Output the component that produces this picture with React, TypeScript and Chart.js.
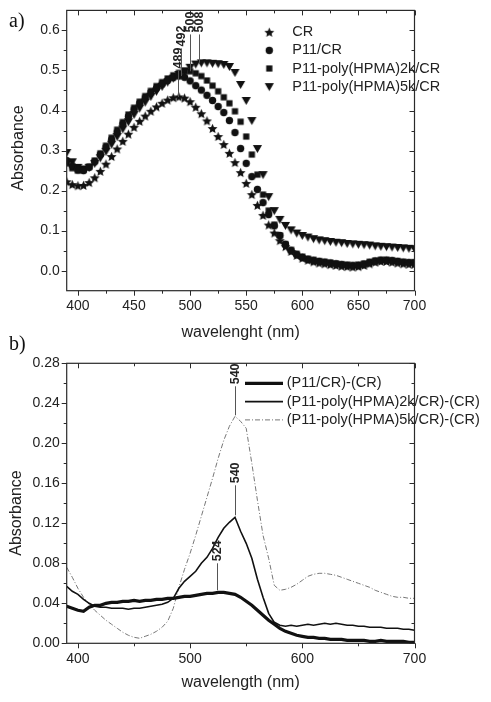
import React, { useEffect, useRef } from 'react';
import { Chart, registerables } from 'chart.js';
Chart.register(...registerables);

const FONT = '"Liberation Sans", Arial, sans-serif';
const INK = '#222';

// ---------- shared wavelength grid (nm) ----------
const wavelengths = [390, 395, 400, 405, 410, 415, 420, 425, 430, 435, 440, 445, 450, 455, 460, 465, 470, 475, 480,
  485, 490, 495, 500, 505, 510, 515, 520, 525, 530, 535, 540, 545, 550, 555, 560, 565, 570, 575, 580,
  585, 590, 595, 600, 605, 610, 615, 620, 625, 630, 635, 640, 645, 650, 655, 660, 665, 670, 675, 680, 685, 690, 695, 700];

// ---------- panel a) ----------
const absCR = [0.222, 0.215, 0.212, 0.213, 0.220, 0.232, 0.248, 0.266, 0.285, 0.304, 0.323, 0.341, 0.358, 0.373, 0.386, 0.398, 0.409, 0.418, 0.426,
  0.432, 0.434, 0.431, 0.422, 0.408, 0.392, 0.374, 0.355, 0.335, 0.315, 0.293, 0.270, 0.245, 0.218, 0.190, 0.163, 0.138, 0.114, 0.094, 0.075,
  0.060, 0.048, 0.038, 0.031, 0.026, 0.022, 0.019, 0.017, 0.015, 0.013, 0.011, 0.010, 0.009, 0.010, 0.013, 0.017, 0.021, 0.023, 0.023, 0.021, 0.019, 0.017, 0.016, 0.016];
const absP11 = [0.275, 0.262, 0.252, 0.250, 0.258, 0.272, 0.290, 0.308, 0.327, 0.346, 0.366, 0.385, 0.402, 0.418, 0.432, 0.445, 0.456, 0.466, 0.475,
  0.482, 0.486, 0.483, 0.474, 0.462, 0.451, 0.438, 0.425, 0.410, 0.395, 0.375, 0.345, 0.305, 0.268, 0.235, 0.203, 0.170, 0.140, 0.112, 0.088,
  0.066, 0.050, 0.040, 0.033, 0.028, 0.025, 0.023, 0.021, 0.019, 0.017, 0.015, 0.013, 0.012, 0.013, 0.016, 0.020, 0.024, 0.026, 0.026, 0.025, 0.023, 0.021, 0.020, 0.020];
const absP11_2k = [0.268, 0.256, 0.250, 0.252, 0.260, 0.275, 0.293, 0.312, 0.332, 0.352, 0.371, 0.390, 0.407, 0.422, 0.436, 0.449, 0.461, 0.471, 0.480,
  0.488, 0.494, 0.498, 0.498, 0.493, 0.486, 0.475, 0.462, 0.448, 0.433, 0.418, 0.398, 0.372, 0.335, 0.290, 0.240, 0.190, 0.150, 0.115, 0.088,
  0.066, 0.052, 0.042, 0.035, 0.030, 0.027, 0.024, 0.022, 0.020, 0.018, 0.016, 0.015, 0.014, 0.015, 0.018, 0.022, 0.025, 0.027, 0.027, 0.026, 0.024, 0.022, 0.021, 0.021];
const absP11_5k = [0.295, 0.272, 0.258, 0.254, 0.258, 0.268, 0.282, 0.298, 0.316, 0.335, 0.354, 0.372, 0.390, 0.406, 0.421, 0.435, 0.448, 0.460, 0.471,
  0.481, 0.490, 0.499, 0.508, 0.516, 0.519, 0.519, 0.518, 0.517, 0.515, 0.510, 0.495, 0.465, 0.425, 0.375, 0.305, 0.240, 0.185, 0.150, 0.128,
  0.113, 0.102, 0.094, 0.088, 0.084, 0.080, 0.077, 0.075, 0.073, 0.071, 0.070, 0.068, 0.067, 0.066, 0.065, 0.064, 0.062, 0.061, 0.060, 0.059, 0.058, 0.057, 0.056, 0.055];
const labelsA = ['CR', 'P11/CR', 'P11-poly(HPMA)2k/CR', 'P11-poly(HPMA)5k/CR'];
const markerKindsA = ['star', 'circle', 'square', 'tri'];
const xTicksA = [400, 450, 500, 550, 600, 650, 700];
const xMinorA = [425, 475, 525, 575, 625, 675];
const yTicksA = [0, 0.1, 0.2, 0.3, 0.4, 0.5, 0.6];
const yMinorA = [0.05, 0.15, 0.25, 0.35, 0.45, 0.55];
const peakWlA = [489, 492, 500, 508];
const peakBaseA = [0.434, 0.486, 0.498, 0.519];
const peakTopA = [0.50, 0.555, 0.59, 0.59];

// ---------- panel b) ----------
const diffP11 = [0.037, 0.035, 0.033, 0.032, 0.036, 0.038, 0.038, 0.040, 0.041, 0.041, 0.042, 0.042, 0.043, 0.042, 0.043, 0.043, 0.044, 0.044, 0.045,
  0.045, 0.046, 0.047, 0.047, 0.048, 0.049, 0.050, 0.050, 0.051, 0.051, 0.050, 0.049, 0.046, 0.042, 0.038, 0.033, 0.028, 0.023, 0.019, 0.015,
  0.012, 0.010, 0.008, 0.007, 0.006, 0.006, 0.005, 0.005, 0.004, 0.004, 0.004, 0.003, 0.003, 0.003, 0.003, 0.002, 0.002, 0.003, 0.002, 0.002, 0.002, 0.002, 0.001, 0.001];
const diff2k = [0.057, 0.052, 0.049, 0.044, 0.040, 0.037, 0.036, 0.036, 0.035, 0.035, 0.035, 0.034, 0.035, 0.035, 0.036, 0.037, 0.038, 0.039, 0.041,
  0.045, 0.055, 0.062, 0.067, 0.072, 0.080, 0.086, 0.095, 0.106, 0.115, 0.121, 0.126, 0.112, 0.100, 0.085, 0.064, 0.046, 0.030, 0.021, 0.018,
  0.017, 0.018, 0.017, 0.018, 0.019, 0.018, 0.019, 0.020, 0.019, 0.020, 0.019, 0.018, 0.018, 0.017, 0.017, 0.016, 0.016, 0.016, 0.015, 0.015, 0.015, 0.014, 0.014, 0.013];
const diff5k = [0.076, 0.066, 0.055, 0.046, 0.039, 0.033, 0.028, 0.023, 0.019, 0.015, 0.011, 0.008, 0.006, 0.005, 0.007, 0.009, 0.012, 0.016, 0.022,
  0.035, 0.056, 0.074, 0.090, 0.108, 0.127, 0.146, 0.165, 0.185, 0.203, 0.217, 0.227, 0.222, 0.215, 0.180, 0.143, 0.108, 0.085, 0.058, 0.053,
  0.054, 0.056, 0.059, 0.063, 0.067, 0.069, 0.070, 0.070, 0.069, 0.068, 0.066, 0.064, 0.062, 0.060, 0.058, 0.056, 0.053, 0.051, 0.049, 0.047, 0.046, 0.046, 0.045, 0.045];
const labelsB = ['(P11/CR)-(CR)', '(P11-poly(HPMA)2k/CR)-(CR)', '(P11-poly(HPMA)5k/CR)-(CR)'];
const xTicksB = [400, 500, 600, 700];
const xMinorB = [450, 550, 650];
const yTicksB = [0, 0.04, 0.08, 0.12, 0.16, 0.20, 0.24, 0.28];
const yMinorB = [0.02, 0.06, 0.10, 0.14, 0.18, 0.22, 0.26];
const peakWlB = [540, 540, 524];
const peakBaseB = [0.228, 0.128, 0.053];
const peakTopB = [0.257, 0.158, 0.080];

function makeMarker(kind: string): HTMLCanvasElement {
  const c = document.createElement('canvas');
  const s = 11;
  c.width = s; c.height = s;
  const g = c.getContext('2d')!;
  g.fillStyle = '#111';
  const cx = s / 2, cy = s / 2;
  g.beginPath();
  if (kind === 'star') {
    for (let i = 0; i < 10; i++) {
      const r = i % 2 === 0 ? 5.2 : 2.4;
      const ang = -Math.PI / 2 + (i * Math.PI) / 5;
      const px = cx + r * Math.cos(ang), py = cy + 0.4 + r * Math.sin(ang);
      if (i === 0) g.moveTo(px, py); else g.lineTo(px, py);
    }
  } else if (kind === 'circle') {
    g.arc(cx, cy, 3.7, 0, Math.PI * 2);
  } else if (kind === 'square') {
    g.rect(cx - 3.1, cy - 3.1, 6.2, 6.2);
  } else {
    g.moveTo(cx - 4.6, cy - 3.4);
    g.lineTo(cx + 4.6, cy - 3.4);
    g.lineTo(cx, cy + 4.4);
  }
  g.closePath();
  g.fill();
  return c;
}

type DecorCfg = {
  xMajor: number[]; xMinor: number[]; yMajor: number[]; yMinor: number[];
  peakWl: number[]; peakBase: number[]; peakTop: number[];
  legend: { kind: 'marker' | 'line'; symX: number; lineX0: number; lineX1: number; textX: number; y0: number; dy: number };
  yTitle: { text: string; x: number; y: number };
  panel: { text: string; x: number; y: number };
};

function makeDecor(cfg: DecorCfg) {
  return {
    id: 'decor',
    afterDraw(chart: any) {
      const { ctx, chartArea: a } = chart;
      const xs = chart.scales.x, ys = chart.scales.y;
      ctx.save();
      // frame
      ctx.strokeStyle = '#2a2a2a';
      ctx.lineWidth = 1.2;
      ctx.strokeRect(a.left, a.top, a.right - a.left, a.bottom - a.top);
      // ticks
      ctx.lineWidth = 1;
      ctx.beginPath();
      const xt = (v: number, len: number) => {
        const p = Math.round(xs.getPixelForValue(v)) + 0.5;
        ctx.moveTo(p, a.bottom); ctx.lineTo(p, a.bottom + len);
        ctx.moveTo(p, a.top); ctx.lineTo(p, a.top + len);
      };
      const yt = (v: number, len: number) => {
        const p = Math.round(ys.getPixelForValue(v)) + 0.5;
        ctx.moveTo(a.left - len, p); ctx.lineTo(a.left, p);
        ctx.moveTo(a.right, p); ctx.lineTo(a.right - len, p);
      };
      cfg.xMajor.forEach((v) => xt(v, 5));
      cfg.xMinor.forEach((v) => xt(v, 3));
      cfg.yMajor.forEach((v) => yt(v, 5));
      cfg.yMinor.forEach((v) => yt(v, 3));
      ctx.stroke();

      // peak annotations
      ctx.strokeStyle = '#555';
      ctx.lineWidth = 1;
      ctx.fillStyle = INK;
      ctx.font = `bold 12.5px ${FONT}`;
      cfg.peakWl.forEach((wl, i) => {
        const px = Math.round(xs.getPixelForValue(wl)) + 0.5;
        const yb = ys.getPixelForValue(cfg.peakBase[i]);
        const ytp = ys.getPixelForValue(cfg.peakTop[i]);
        ctx.beginPath();
        ctx.moveTo(px, yb); ctx.lineTo(px, ytp);
        ctx.stroke();
        ctx.save();
        ctx.translate(px, ytp - 2);
        ctx.rotate(-Math.PI / 2);
        ctx.textAlign = 'left';
        ctx.textBaseline = 'middle';
        ctx.fillText(String(wl), 0, 0);
        ctx.restore();
      });

      // legend
      const L = cfg.legend;
      ctx.font = `14.5px ${FONT}`;
      ctx.textBaseline = 'middle';
      ctx.textAlign = 'left';
      chart.data.datasets.forEach((ds: any, i: number) => {
        const yy = L.y0 + i * L.dy;
        if (L.kind === 'marker') {
          const img = ds.pointStyle as HTMLCanvasElement;
          ctx.drawImage(img, L.symX - img.width / 2, yy - img.height / 2);
        } else {
          ctx.save();
          ctx.strokeStyle = ds.borderColor;
          ctx.lineWidth = ds.borderWidth;
          ctx.setLineDash(ds.borderDash || []);
          ctx.beginPath();
          ctx.moveTo(L.lineX0, yy); ctx.lineTo(L.lineX1, yy);
          ctx.stroke();
          ctx.restore();
        }
        ctx.fillStyle = INK;
        ctx.fillText(ds.label, L.textX, yy);
      });

      // y title
      ctx.save();
      ctx.font = `16px ${FONT}`;
      ctx.fillStyle = INK;
      ctx.translate(cfg.yTitle.x, cfg.yTitle.y);
      ctx.rotate(-Math.PI / 2);
      ctx.textAlign = 'center';
      ctx.textBaseline = 'middle';
      ctx.fillText(cfg.yTitle.text, 0, 0);
      ctx.restore();

      // panel label
      ctx.font = `20px "Liberation Serif", "Times New Roman", serif`;
      ctx.fillStyle = '#111';
      ctx.textAlign = 'left';
      ctx.textBaseline = 'alphabetic';
      ctx.fillText(cfg.panel.text, cfg.panel.x, cfg.panel.y);
      ctx.restore();
    },
  };
}

function axisX(ticks: number[], title: string, height: number, titlePad: number) {
  return {
    type: 'linear',
    min: 390,
    max: 700,
    afterFit: (s: any) => { s.height = height; },
    afterBuildTicks: (s: any) => { s.ticks = ticks.map((v) => ({ value: v })); },
    grid: { display: false, drawTicks: true, tickLength: 5 },
    border: { display: false },
    ticks: { autoSkip: false, maxRotation: 0, minRotation: 0, padding: 2, color: INK, font: { family: FONT, size: 14 }, callback: (v: any) => String(v) },
    title: { display: true, text: title, color: INK, font: { family: FONT, size: 16 }, padding: { top: 0, bottom: titlePad } },
  };
}

function axisY(ticks: number[], min: number, max: number, decimals: number) {
  return {
    type: 'linear',
    min,
    max,
    afterFit: (s: any) => { s.width = 66.7; },
    afterBuildTicks: (s: any) => { s.ticks = ticks.map((v) => ({ value: v })); },
    grid: { display: false, drawTicks: true, tickLength: 5 },
    border: { display: false },
    ticks: { autoSkip: false, padding: 2, color: INK, font: { family: FONT, size: 14 }, callback: (v: any) => Number(v).toFixed(decimals) },
    title: { display: false },
  };
}

export default function App() {
  const refA = useRef<HTMLCanvasElement>(null);
  const refB = useRef<HTMLCanvasElement>(null);

  useEffect(() => {
    const seriesA = [absCR, absP11, absP11_2k, absP11_5k];
    const markers = markerKindsA.map(makeMarker);
    const chartA = new Chart(refA.current!, {
      type: 'scatter',
      data: {
        datasets: labelsA.map((label, i) => ({
          label,
          data: wavelengths.map((w, j) => ({ x: w, y: seriesA[i][j] })),
          pointStyle: markers[i] as any,
          pointRadius: 4,
          showLine: false,
          backgroundColor: '#111',
          borderColor: '#111',
        })),
      },
      options: {
        responsive: false,
        animation: false,
        devicePixelRatio: 1,
        events: [],
        layout: { padding: { top: 9, right: 76.5, bottom: 0, left: 0 } },
        plugins: { legend: { display: false }, tooltip: { enabled: false } },
        scales: {
          x: axisX(xTicksA, 'wavelenght (nm)', 54.3, 2.7) as any,
          y: axisY(yTicksA, -0.05, 0.65, 1) as any,
        },
      },
      plugins: [makeDecor({
        xMajor: xTicksA, xMinor: xMinorA, yMajor: yTicksA, yMinor: yMinorA,
        peakWl: peakWlA, peakBase: peakBaseA, peakTop: peakTopA,
        legend: { kind: 'marker', symX: 269.3, lineX0: 0, lineX1: 0, textX: 292.3, y0: 32.3, dy: 18.1 },
        yTitle: { text: 'Absorbance', x: 18.5, y: 148 },
        panel: { text: 'a)', x: 9, y: 27 },
      })],
    } as any);

    const seriesB = [diffP11, diff2k, diff5k];
    const stylesB = [
      { borderColor: '#111', borderWidth: 3.2, borderDash: [] as number[] },
      { borderColor: '#111', borderWidth: 1.6, borderDash: [] as number[] },
      { borderColor: '#777', borderWidth: 1, borderDash: [5, 2, 1, 2] },
    ];
    const chartB = new Chart(refB.current!, {
      type: 'line',
      data: {
        datasets: labelsB.map((label, i) => ({
          label,
          data: wavelengths.map((w, j) => ({ x: w, y: seriesB[i][j] })),
          pointRadius: 0,
          tension: 0,
          fill: false,
          ...stylesB[i],
        })),
      },
      options: {
        responsive: false,
        animation: false,
        devicePixelRatio: 1,
        events: [],
        layout: { padding: { top: 33.3, right: 76.5, bottom: 0, left: 0 } },
        plugins: { legend: { display: false }, tooltip: { enabled: false } },
        scales: {
          x: axisX(xTicksB, 'wavelength (nm)', 58.7, 9.4) as any,
          y: axisY(yTicksB, 0, 0.28, 2) as any,
        },
      },
      plugins: [makeDecor({
        xMajor: xTicksB, xMinor: xMinorB, yMajor: yTicksB, yMinor: yMinorB,
        peakWl: peakWlB, peakBase: peakBaseB, peakTop: peakTopB,
        legend: { kind: 'line', symX: 0, lineX0: 245, lineX1: 283, textX: 286.7, y0: 53.3, dy: 18.3 },
        yTitle: { text: 'Absorbance', x: 17, y: 183 },
        panel: { text: 'b)', x: 9, y: 20 },
      })],
    } as any);

    return () => { chartA.destroy(); chartB.destroy(); };
  }, []);

  return (
    <div style={{ position: 'absolute', left: 0, top: 0, width: 491, height: 702, background: '#fff' }}>
      <canvas ref={refA} width={491} height={345} style={{ position: 'absolute', left: 0, top: 0, width: 491, height: 345 }} />
      <canvas ref={refB} width={491} height={372} style={{ position: 'absolute', left: 0, top: 330, width: 491, height: 372 }} />
    </div>
  );
}
